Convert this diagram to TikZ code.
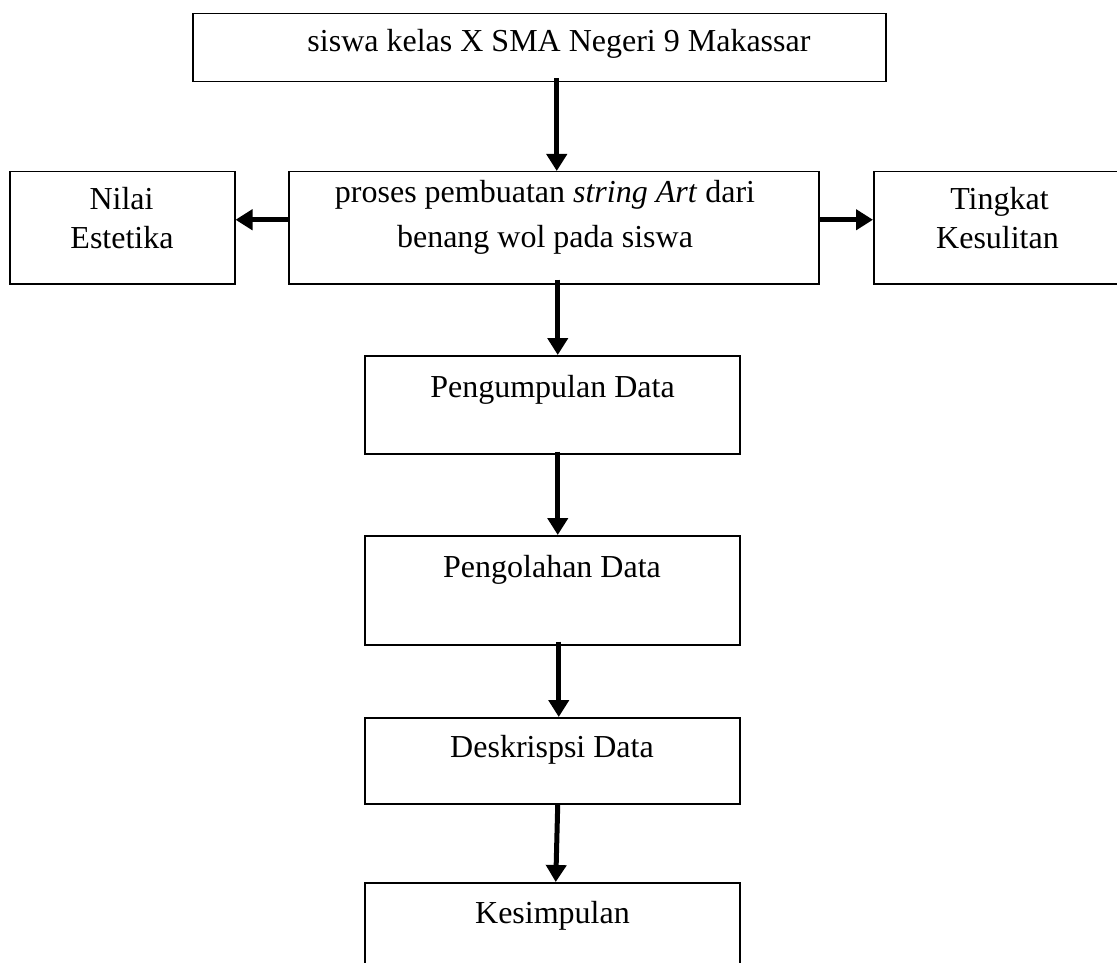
\documentclass[tikz,border=0pt]{standalone}
\usepackage{fontspec}
\setmainfont{Liberation Serif}
\usetikzlibrary{arrows.meta}
\begin{document}
\begin{tikzpicture}[x=1pt,y=-1pt,
  box/.style={draw,line width=1.5pt,inner sep=0pt,anchor=north west},
  lbl/.style={anchor=base,inner sep=0pt,font=\fontsize{32}{38}\selectfont},
  arr/.style={line width=5pt,-{Triangle[length=17pt,width=20pt]}}]
\useasboundingbox (0,0) rectangle (1117,963);
% boxes
\node[box,minimum width=693pt,minimum height=68pt]  (top)   at (192,13)  {};
\node[box,minimum width=225pt,minimum height=112pt] (left)  at (9,171)   {};
\node[box,minimum width=530pt,minimum height=112pt] (mid)   at (288,171) {};
\node[box,minimum width=249pt,minimum height=112pt] (right) at (873,171) {};
\node[box,minimum width=375pt,minimum height=98pt]  (pg1)   at (364,355) {};
\node[box,minimum width=375pt,minimum height=109pt] (pg2)   at (364,535) {};
\node[box,minimum width=375pt,minimum height=86pt]  (desk)  at (364,717) {};
\node[box,minimum width=375pt,minimum height=110pt] (kes)   at (364,882) {};
% texts
\node[lbl] (t1) at (559,52)  {siswa kelas X SMA Negeri 9 Makassar};
\node[lbl] (m1) at (545,203) {proses pembuatan \textit{string Art} dari};
\node[lbl] (m2) at (545,247) {benang wol pada siswa};
\node[lbl] (l1) at (121.5,209) {Nilai};
\node[lbl] (l2) at (122,248) {Estetika};
\node[lbl] (r1) at (999.5,210) {Tingkat};
\node[lbl] (r2) at (997.5,248) {Kesulitan};
\node[lbl] (p1) at (552.5,397) {Pengumpulan Data};
\node[lbl] (p2) at (552,577) {Pengolahan Data};
\node[lbl] (d1) at (552,757) {Deskrispsi Data};
\node[lbl] (k1) at (552.5,923) {Kesimpulan};
% connectors
\draw[arr] ([xshift=17.5pt,yshift=4pt]top.south) -- ([xshift=3pt]mid.north);
\draw[arr] ([yshift=8pt]mid.west) -- ([yshift=8pt]left.east);
\draw[arr] ([yshift=8pt]mid.east) -- ([yshift=8pt]right.west);
\draw[arr] ([xshift=4pt,yshift=5pt]mid.south) -- ([xshift=5.5pt]pg1.north);
\draw[arr] ([xshift=5.5pt,yshift=3pt]pg1.south) -- ([xshift=5.5pt]pg2.north);
\draw[arr] ([xshift=6.5pt,yshift=4pt]pg2.south) -- ([xshift=6.5pt]desk.north);
\draw[arr] ([xshift=5.5pt,yshift=1pt]desk.south) -- ([xshift=3.5pt]kes.north);
\end{tikzpicture}
\end{document}
